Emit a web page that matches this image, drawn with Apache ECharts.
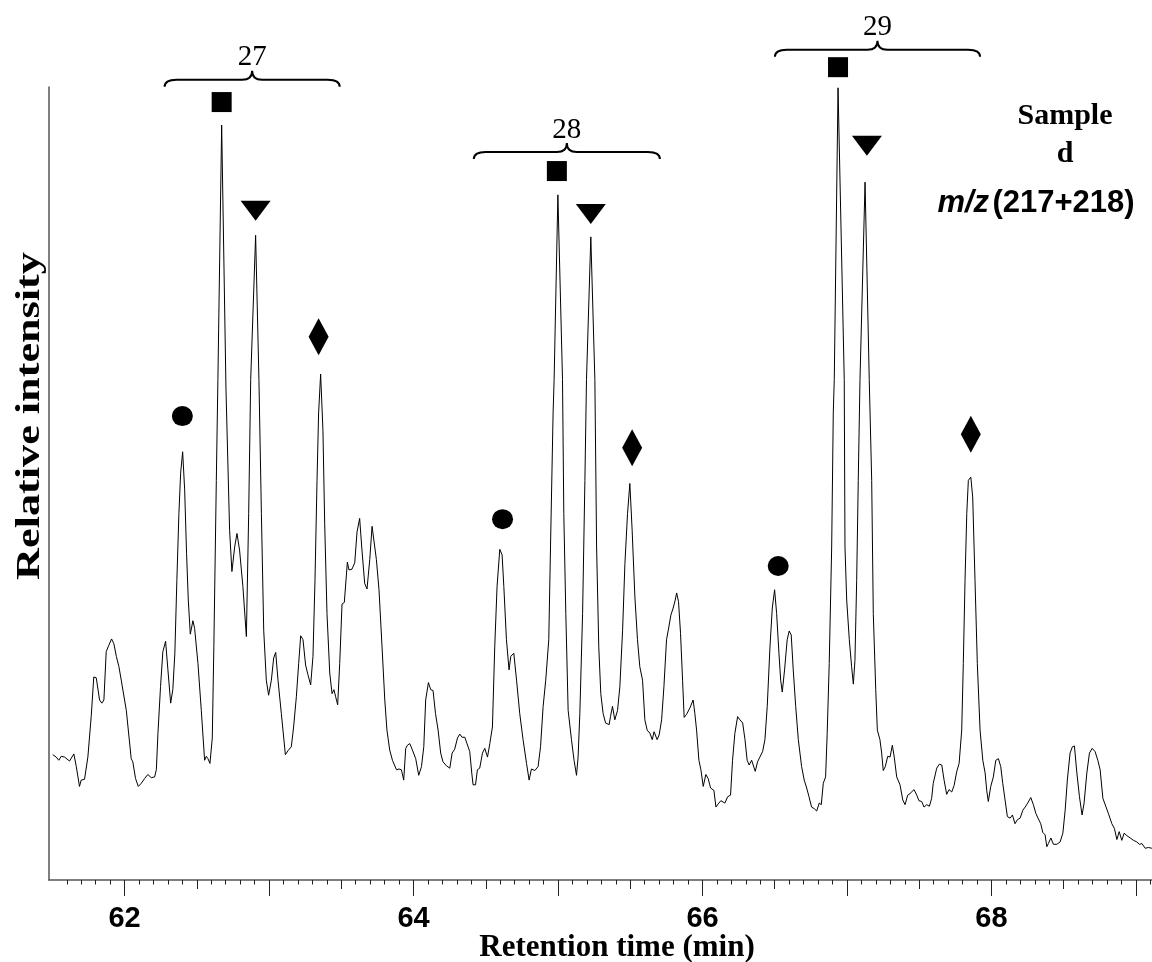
<!DOCTYPE html>
<html>
<head>
<meta charset="utf-8">
<script src="https://cdn.jsdelivr.net/npm/echarts@6/dist/echarts.min.js"></script>
<style>
  html, body { margin: 0; padding: 0; background: #fff; }
  #chart { width: 1152px; height: 962px; }
</style>
</head>
<body>
<div id="chart"></div>
<script>
// m/z (217+218) trace: [retention time (min), relative intensity]
const chromatogram = [
  [61.503,15.8],[61.527,15.5],[61.545,15.1],[61.562,15.6],[61.585,15.5],[61.619,15.0],[61.649,15.9],[61.666,14.3],
  [61.688,11.8],[61.700,12.6],[61.723,12.7],[61.746,15.5],[61.769,20.6],[61.787,25.6],[61.804,25.5],[61.827,22.7],
  [61.843,22.3],[61.857,22.7],[61.873,28.8],[61.891,29.6],[61.910,30.4],[61.926,29.8],[61.943,28.2],[61.961,26.9],
  [61.977,25.2],[62.012,21.4],[62.046,15.3],[62.057,14.9],[62.076,12.8],[62.095,11.8],[62.116,12.2],[62.139,12.8],
  [62.161,13.3],[62.185,12.9],[62.208,13.0],[62.220,13.9],[62.231,18.5],[62.249,24.4],[62.265,28.8],[62.284,30.1],
  [62.300,26.5],[62.319,22.3],[62.334,24.0],[62.348,28.6],[62.362,37.8],[62.376,46.2],[62.388,51.3],[62.402,54.0],
  [62.416,49.2],[62.429,41.2],[62.441,35.3],[62.455,31.0],[62.473,32.7],[62.485,31.7],[62.508,27.3],[62.531,21.4],
  [62.554,15.1],[62.566,15.6],[62.577,15.3],[62.591,14.7],[62.607,17.9],[62.618,29.4],[62.635,50.4],[62.646,63.1],
  [62.672,95.2],[62.702,61.8],[62.727,44.1],[62.743,38.9],[62.762,42.0],[62.778,43.7],[62.796,41.6],[62.819,37.0],
  [62.843,30.7],[62.859,46.2],[62.873,63.1],[62.907,81.3],[62.930,63.1],[62.947,46.2],[62.963,31.5],[62.981,25.2],
  [62.997,23.3],[63.016,25.2],[63.032,28.0],[63.046,28.7],[63.062,25.2],[63.085,21.0],[63.113,15.8],[63.131,16.3],
  [63.154,16.8],[63.170,19.3],[63.189,23.1],[63.205,27.3],[63.219,30.8],[63.235,30.3],[63.253,27.1],[63.269,25.9],
  [63.288,24.6],[63.304,28.2],[63.318,37.8],[63.332,50.4],[63.343,58.9],[63.357,63.8],[63.373,56.7],[63.385,45.0],
  [63.401,33.6],[63.420,26.1],[63.436,23.5],[63.449,24.0],[63.461,23.1],[63.475,22.1],[63.489,27.3],[63.505,34.8],
  [63.521,35.0],[63.542,40.1],[63.553,39.1],[63.574,39.2],[63.593,40.0],[63.609,43.9],[63.627,45.6],[63.643,41.6],
  [63.662,37.4],[63.678,36.7],[63.697,40.4],[63.713,44.6],[63.726,44.4],[63.743,40.4],[63.761,36.6],[63.782,29.4],
  [63.801,22.7],[63.816,18.9],[63.835,16.4],[63.854,15.1],[63.865,14.9],[63.882,13.9],[63.900,14.0],[63.916,13.9],
  [63.932,12.6],[63.946,16.6],[63.958,17.0],[63.974,17.2],[63.992,16.4],[64.015,15.3],[64.036,13.2],[64.055,14.3],
  [64.071,16.8],[64.084,22.7],[64.103,24.9],[64.119,24.0],[64.135,23.9],[64.152,21.0],[64.170,18.9],[64.188,16.0],
  [64.204,14.9],[64.228,14.4],[64.251,14.1],[64.267,16.0],[64.285,16.5],[64.304,17.9],[64.320,18.4],[64.336,18.0],
  [64.355,18.0],[64.370,17.2],[64.389,16.2],[64.403,13.5],[64.412,12.0],[64.429,12.0],[64.442,13.9],[64.458,14.1],
  [64.477,16.0],[64.493,16.6],[64.512,15.5],[64.528,17.2],[64.546,19.3],[64.562,29.4],[64.578,37.0],[64.597,41.7],
  [64.613,41.0],[64.625,37.0],[64.643,30.3],[64.661,26.5],[64.673,28.2],[64.694,28.6],[64.713,25.2],[64.735,21.0],
  [64.758,17.7],[64.782,14.7],[64.800,12.6],[64.816,14.0],[64.839,13.8],[64.862,14.3],[64.879,16.8],[64.897,21.9],
  [64.915,25.2],[64.936,30.3],[64.948,42.0],[64.966,58.9],[64.973,63.1],[64.999,86.4],[65.031,63.1],[65.040,46.2],
  [65.054,33.6],[65.070,21.4],[65.093,17.7],[65.111,15.1],[65.128,13.2],[65.139,15.5],[65.151,21.0],[65.170,33.6],
  [65.186,50.4],[65.197,63.1],[65.227,81.1],[65.255,63.1],[65.267,42.0],[65.282,29.4],[65.296,23.5],[65.312,21.0],
  [65.329,19.8],[65.354,19.6],[65.363,20.6],[65.377,21.9],[65.393,20.2],[65.412,21.4],[65.428,24.4],[65.447,31.5],
  [65.463,39.9],[65.481,46.2],[65.497,50.0],[65.513,44.1],[65.532,35.7],[65.550,30.3],[65.566,26.9],[65.585,25.2],
  [65.601,20.2],[65.617,18.9],[65.636,18.5],[65.652,17.7],[65.665,18.7],[65.686,17.7],[65.700,18.3],[65.717,20.2],
  [65.733,24.4],[65.751,30.3],[65.767,31.9],[65.781,33.4],[65.797,34.3],[65.811,35.3],[65.821,36.2],[65.834,35.1],
  [65.848,31.1],[65.862,25.2],[65.873,20.5],[65.890,20.9],[65.913,21.7],[65.935,22.7],[65.947,21.0],[65.959,18.9],
  [65.975,15.1],[65.989,13.9],[66.005,11.8],[66.023,13.3],[66.039,12.8],[66.056,11.6],[66.079,11.3],[66.093,9.2],
  [66.109,9.6],[66.127,10.0],[66.155,9.7],[66.174,10.5],[66.194,10.7],[66.208,15.1],[66.224,18.5],[66.243,20.6],
  [66.259,20.2],[66.278,19.8],[66.294,17.7],[66.309,15.1],[66.323,14.5],[66.340,15.1],[66.351,15.1],[66.365,13.7],
  [66.381,14.9],[66.397,15.5],[66.416,16.2],[66.432,17.7],[66.448,21.9],[66.467,29.4],[66.483,34.3],[66.499,36.6],
  [66.513,33.6],[66.529,28.6],[66.541,25.2],[66.552,23.7],[66.568,26.5],[66.586,30.3],[66.600,31.4],[66.614,30.9],
  [66.628,26.5],[66.645,21.9],[66.663,17.7],[66.686,14.3],[66.704,12.6],[66.721,11.6],[66.737,10.5],[66.755,9.2],
  [66.773,9.0],[66.790,8.7],[66.808,9.7],[66.822,9.5],[66.836,12.2],[66.852,13.0],[66.863,18.5],[66.877,27.3],
  [66.894,42.0],[66.905,58.9],[66.912,63.1],[66.938,99.9],[66.981,63.1],[66.986,42.0],[66.998,35.3],[67.016,30.3],
  [67.032,26.9],[67.044,24.7],[67.055,27.7],[67.067,37.8],[67.078,50.4],[67.090,63.1],[67.125,88.0],[67.154,63.1],
  [67.171,50.4],[67.182,33.6],[67.199,24.0],[67.210,18.9],[67.228,17.7],[67.240,16.0],[67.251,13.8],[67.265,14.3],
  [67.282,15.6],[67.298,15.5],[67.314,17.0],[67.327,15.5],[67.344,13.0],[67.367,12.0],[67.386,10.1],[67.402,9.5],
  [67.420,10.7],[67.436,10.9],[67.464,11.4],[67.483,10.7],[67.498,10.0],[67.517,9.9],[67.533,9.2],[67.552,9.5],
  [67.570,9.3],[67.586,10.3],[67.597,12.2],[67.621,14.1],[67.639,14.6],[67.656,14.5],[67.672,12.6],[67.690,10.8],
  [67.706,11.4],[67.725,11.1],[67.741,11.9],[67.760,13.7],[67.776,14.7],[67.794,18.9],[67.805,27.3],[67.817,37.8],
  [67.829,46.2],[67.840,50.4],[67.857,50.8],[67.870,48.3],[67.886,37.8],[67.902,27.3],[67.921,18.9],[67.940,15.1],
  [67.956,13.5],[67.967,11.3],[67.978,9.9],[67.995,11.8],[68.013,13.0],[68.030,15.1],[68.048,15.3],[68.064,14.3],
  [68.078,12.2],[68.094,10.1],[68.110,8.0],[68.129,7.8],[68.145,8.2],[68.163,7.1],[68.179,7.6],[68.198,7.8],
  [68.217,8.8],[68.233,9.2],[68.251,9.7],[68.272,10.4],[68.290,9.5],[68.307,8.4],[68.325,7.7],[68.341,7.1],
  [68.355,6.0],[68.371,5.7],[68.383,4.2],[68.394,4.6],[68.411,5.3],[68.429,4.5],[68.452,4.5],[68.475,4.8],
  [68.494,5.9],[68.510,8.8],[68.525,12.6],[68.544,16.0],[68.560,16.8],[68.574,16.9],[68.591,13.5],[68.609,10.5],
  [68.627,8.2],[68.641,9.7],[68.660,13.5],[68.678,16.0],[68.697,16.6],[68.717,16.2],[68.736,15.1],[68.752,13.9],
  [68.771,10.3],[68.793,9.2],[68.809,8.4],[68.833,7.1],[68.851,6.5],[68.868,5.1],[68.884,6.1],[68.902,5.0],
  [68.918,5.9],[68.937,5.6],[68.960,5.3],[68.983,5.0],[69.006,4.8],[69.024,4.5],[69.041,4.6],[69.064,4.0],
  [69.086,4.1],[69.110,4.0]
];

// Peak markers: [retention time, height of the marker]
const circleMarks   = [[62.400, 58.5], [64.616, 45.5], [66.524, 39.6]];
const squareMarks   = [[62.672, 98.1], [64.992, 89.4], [66.938, 102.5]];
const triangleMarks = [[62.907, 84.4], [65.227, 84.0], [67.138, 92.6]];
const diamondMarks  = [[63.343, 68.5], [65.513, 54.5], [67.857, 56.2]];

// Carbon-number groups: [label, start time, end time, brace level]
const braceGroups = [
  ['27', 62.277, 63.489, 100.9],
  ['28', 64.417, 65.705, 91.8],
  ['29', 66.501, 67.921, 104.7]
];

// Axis ticks and labels
const timeLabels = [62, 64, 66, 68];
const wholeMinuteTicks = [62, 63, 64, 65, 66, 67, 68, 69];
const halfMinuteTicks = [62.5, 63.5, 64.5, 65.5, 66.5, 67.5, 68.5];
const tenthMinuteTicks = [];
for (let k = 616; k <= 691; k++) {
  if (k % 5 !== 0) tenthMinuteTicks.push(k / 10);
}

const X_MIN = 61.477;
const X_MAX = 69.111;
const AXIS_COLOR = '#555';

function tickAxis(ticks, len, extra) {
  return Object.assign({
    type: 'value',
    position: 'bottom',
    min: X_MIN,
    max: X_MAX,
    axisLine: { show: false, onZero: false },
    axisTick: { show: true, length: len, customValues: ticks, lineStyle: { color: '#222', width: 1 } },
    axisLabel: { show: false },
    splitLine: { show: false }
  }, extra || {});
}

function markerSeries(name, data, symbol, size, rotate) {
  return {
    name: name, type: 'scatter', data: data, clip: false,
    symbol: symbol, symbolSize: size, symbolRotate: rotate || 0,
    itemStyle: { color: '#000', opacity: 1 },
    emphasis: { disabled: true },
    z: 3
  };
}

const chart = echarts.init(document.getElementById('chart'), null, { renderer: 'canvas' });

chart.setOption({
  animation: false,
  backgroundColor: '#fff',
  grid: { left: 49, right: 0, top: 87, bottom: 82, containLabel: false },
  xAxis: [
    tickAxis(wholeMinuteTicks, 16, {
      axisLine: { show: true, onZero: false, lineStyle: { color: AXIS_COLOR, width: 1.5 } },
      axisLabel: {
        show: true,
        customValues: timeLabels,
        margin: 24,
        color: '#000',
        fontFamily: '"Liberation Sans", Arial, sans-serif',
        fontWeight: 'bold',
        fontSize: 29
      }
    }),
    tickAxis(halfMinuteTicks, 9),
    tickAxis(tenthMinuteTicks, 4.5)
  ],
  yAxis: {
    type: 'value',
    min: 0,
    max: 100,
    axisLine: { show: true, onZero: false, lineStyle: { color: AXIS_COLOR, width: 1.5 } },
    axisTick: { show: false },
    axisLabel: { show: false },
    splitLine: { show: false }
  },
  graphic: [
    {
      type: 'text', x: 30, y: 416, rotation: Math.PI / 2, scaleX: 1.3,
      style: {
        text: 'Relative intensity', fill: '#000',
        font: 'bold 34px "Liberation Serif", "Times New Roman", serif',
        align: 'center', verticalAlign: 'middle'
      }
    },
    {
      type: 'text', x: 617, y: 948,
      style: {
        text: 'Retention time (min)', fill: '#000',
        font: 'bold 31px "Liberation Serif", "Times New Roman", serif',
        align: 'center', verticalAlign: 'middle'
      }
    },
    {
      type: 'text', x: 1065, y: 116,
      style: {
        text: 'Sample', fill: '#000',
        font: 'bold 30px "Liberation Serif", "Times New Roman", serif',
        align: 'center', verticalAlign: 'middle'
      }
    },
    {
      type: 'text', x: 1065, y: 154,
      style: {
        text: 'd', fill: '#000',
        font: 'bold 30px "Liberation Serif", "Times New Roman", serif',
        align: 'center', verticalAlign: 'middle'
      }
    },
    {
      type: 'text', x: 1036, y: 203,
      style: {
        text: '{i|m/z} {b|(217+218)}',
        align: 'center', verticalAlign: 'middle',
        rich: {
          i: { fontFamily: '"Liberation Sans", Arial, sans-serif', fontStyle: 'italic', fontWeight: 'bold', fontSize: 31, fill: '#000' },
          b: { fontFamily: '"Liberation Sans", Arial, sans-serif', fontWeight: 'bold', fontSize: 31, fill: '#000' }
        }
      }
    }
  ],
  series: [
    {
      name: 'm/z (217+218)',
      type: 'line',
      data: chromatogram,
      showSymbol: false,
      symbol: 'none',
      lineStyle: { color: '#000', width: 1 },
      emphasis: { disabled: true },
      z: 2
    },
    markerSeries('circle', circleMarks, 'circle', [21, 20]),
    markerSeries('square', squareMarks, 'rect', [20, 20]),
    markerSeries('triangle', triangleMarks, 'triangle', [30, 20], 180),
    markerSeries('diamond', diamondMarks, 'diamond', [20, 37]),
    {
      name: 'braces',
      type: 'custom',
      clip: false,
      silent: true,
      z: 4,
      data: braceGroups.map(b => [b[1], b[2], b[3]]),
      encode: { x: [0, 1], y: 2 },
      renderItem: function (params, api) {
        const a = api.coord([api.value(0), api.value(2)]);
        const b = api.coord([api.value(1), api.value(2)]);
        const y = a[1], x0 = a[0], x1 = b[0], xm = (x0 + x1) / 2;
        const d = 'M' + x0 + ',' + (y + 7) +
          ' Q' + x0 + ',' + y + ' ' + (x0 + 12) + ',' + y +
          ' L' + (xm - 10) + ',' + y +
          ' Q' + xm + ',' + y + ' ' + xm + ',' + (y - 9) +
          ' Q' + xm + ',' + y + ' ' + (xm + 10) + ',' + y +
          ' L' + (x1 - 12) + ',' + y +
          ' Q' + x1 + ',' + y + ' ' + x1 + ',' + (y + 7);
        return {
          type: 'group',
          children: [
            { type: 'path', shape: { pathData: d }, style: { fill: 'none', stroke: '#000', lineWidth: 2 } },
            {
              type: 'text', x: xm, y: y - 22,
              style: {
                text: braceGroups[params.dataIndex][0], fill: '#000',
                font: '29px "Liberation Serif", "Times New Roman", serif',
                align: 'center', verticalAlign: 'middle'
              }
            }
          ]
        };
      }
    }
  ]
});
</script>
</body>
</html>
